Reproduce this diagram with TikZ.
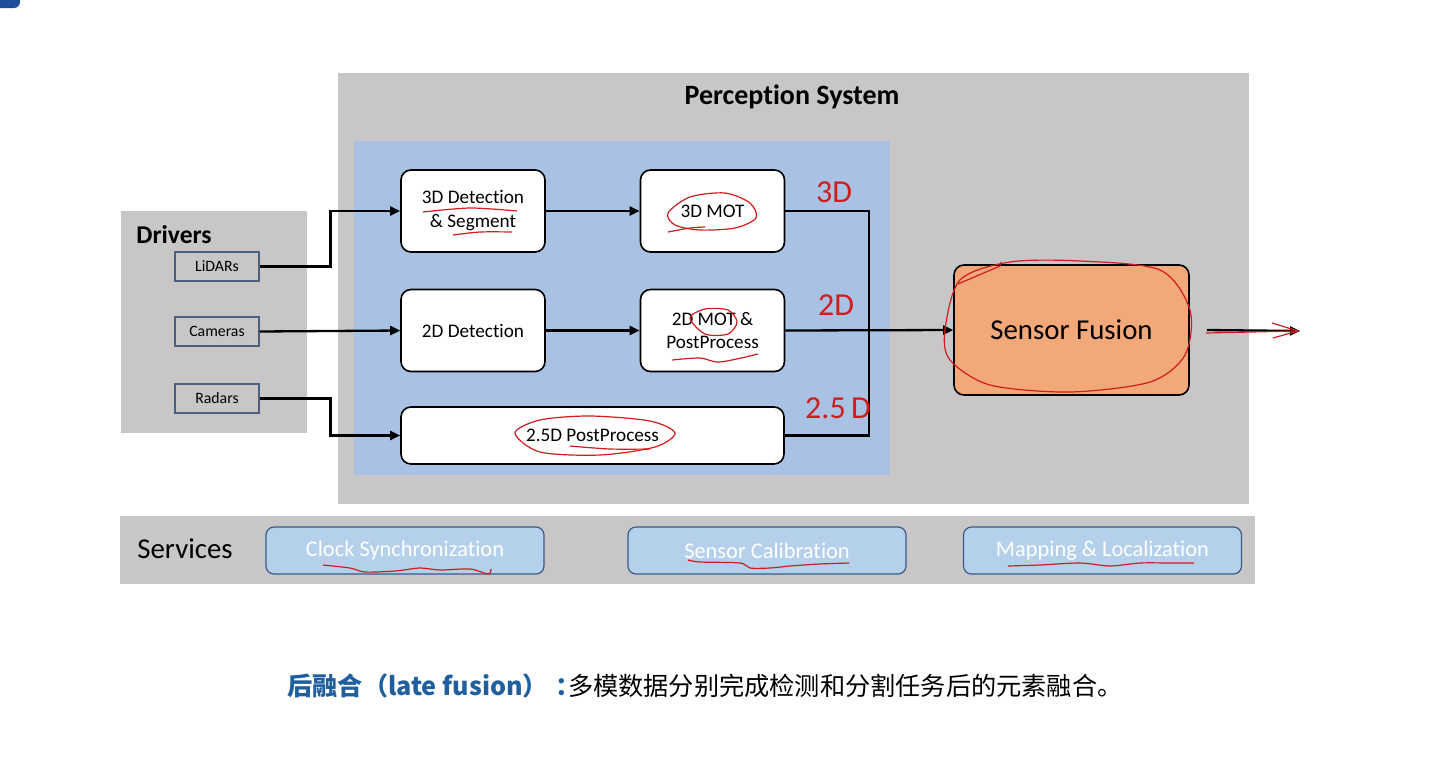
\documentclass[tikz,border=0pt]{standalone}
\usepackage{fontspec}
\setmainfont{Carlito}[Ligatures=NoCommon]
\newfontfamily\cjk{Noto Sans CJK SC}
\usetikzlibrary{arrows.meta, positioning, calc}
\definecolor{panel}{HTML}{C8C6C6}
\definecolor{inner}{HTML}{A9C1E3}
\definecolor{fuse}{HTML}{F2A878}
\definecolor{svc}{HTML}{B4D0EA}
\definecolor{svcedge}{HTML}{3A5A8A}
\definecolor{drv}{HTML}{4A6080}
\definecolor{hand}{HTML}{D01C1C}
\definecolor{ttl}{HTML}{1F5FA0}
\definecolor{corner}{HTML}{1F4E9A}
\tikzset{
  bg/.style={fill=panel, draw=none, inner sep=0pt},
  n/.style={draw=black, line width=0.8pt, rounded corners=5pt, fill=white, align=center, font=\fontsize{9.6}{12}\selectfont, minimum width=72pt, minimum height=41pt, inner sep=2pt},
  nd/.style={draw=drv, line width=0.6pt, fill=panel, font=\fontsize{7.9}{9}\selectfont, minimum width=42pt, minimum height=14.5pt, inner sep=0pt},
  ns/.style={draw=svcedge, line width=0.6pt, rounded corners=4pt, fill=svc, text=white, font=\fontsize{11.2}{13}\selectfont, minimum width=139pt, minimum height=23.5pt},
  a/.style={-{Triangle[length=5pt, width=4.5pt]}, line width=1.15pt},
  l/.style={line width=1.15pt},
  hw/.style={draw=hand, line width=0.6pt},
  hwt/.style={text=hand, font=\fontsize{16}{16}\selectfont},
}
\begin{document}
\begin{tikzpicture}[x=0.5pt, y=-0.5pt]
\useasboundingbox (0,0) rectangle (1440,756);
\fill[corner, rounded corners=3pt] (-10,-10) rectangle (20,8);

% panels
\node[bg, minimum width=455.5pt, minimum height=215.5pt] (perc) at (793.5,288.5) {};
\node[font=\fontsize{14}{16}\selectfont\bfseries] (perctitle) at (792,97) {Perception System};
\node[fill=inner, inner sep=0pt, minimum width=268pt, minimum height=167pt] (core) at (622,308) {};
\node[bg, minimum width=93pt, minimum height=111pt] (drivers) at (214,322) {};
\node[font=\fontsize{12.8}{14}\selectfont\bfseries, anchor=west, inner sep=0pt] (drvtitle) at (136,235) {Drivers};
\node[bg, minimum width=567.5pt, minimum height=34pt] (services) at (687.5,550) {};
\node[font=\fontsize{14.4}{16}\selectfont, anchor=west, inner sep=0pt] (svctitle) at (137,549) {Services};

% sensors
\node[nd] (lidar) at (217,266.5) {LiDARs};
\node[nd] (cam) at (217,331.5) {Cameras};
\node[nd] (radar) at (217,398.5) {Radars};

% perception blocks
\node[n] (det3) at (473,211) {3D Detection\\\& Segment};
\node[n] (mot3) at (712.5,211) {3D MOT};
\node[n] (det2) at (473,330.5) {2D Detection};
\node[n, font=\fontsize{9.6}{11.5}\selectfont] (mot2) at (712.5,330.5) {2D MOT \&\\PostProcess};
\node[n, minimum width=191.5pt, minimum height=28.5pt] (pp25) at (592.5,435.5) {2.5D PostProcess};
\node[n, fill=fuse, minimum width=117.5pt, minimum height=65pt, font=\fontsize{14.4}{16}\selectfont] (fusion) at (1071.5,330) {Sensor Fusion};

% services
\node[ns] (clock) at (405,550.5) {Clock Synchronization};
\node[ns] (calib) at (767,550.5) {Sensor Calibration};
\node[ns] (maploc) at (1102.5,550.5) {Mapping \& Localization};

\coordinate (mg) at (869,330.5);
\coordinate (out) at (1300,331);

\draw[a] (lidar.east) -- ++(71,0) |- (det3.west);
\draw[a] (cam.east) -- (det2.west);
\draw[a] (radar.east) -- ++(71,0) |- (pp25.west);
\draw[a] (det3) -- (mot3);
\draw[a] (det2) -- (mot2);
\draw[l] (mot3.east) -| (mg);
\draw[l] (pp25.east) -| (mg);
\draw[a] (mot2.east) -- (fusion.west);
\draw[a] ([xshift=8.5pt]fusion.east) -- (out);

% handwritten notes
\node[hwt] (n3d) at (834,192) {3D};
\node[hwt] (n2d) at (836,305) {2D};
\node[hwt] (n25d) at (838,408) {2.5\,D};
\draw[hw] plot[smooth] coordinates {(423,212) (470,208) (517,211)};
\draw[hw] plot[smooth] coordinates {(453,235) (480,232) (512,232)};
\draw[hw] plot[smooth cycle] coordinates {(668,213) (690,197) (725,193) (750,203) (756,218) (735,228) (700,230) (675,225)};
\draw[hw] plot[smooth] coordinates {(668,232) (690,228) (705,227)};
\draw[hw] plot[smooth cycle] coordinates {(690,318) (705,309) (728,310) (737,322) (728,334) (705,334)};
\draw[hw] plot[smooth] coordinates {(672,360) (700,358) (720,362) (758,354)};
\draw[hw] plot[smooth cycle] coordinates {(515,433) (540,420) (590,416) (650,421) (675,433) (655,447) (600,455) (540,452)};
\draw[hw] plot[smooth] coordinates {(570,446) (610,449) (650,449)};
\draw[hw] plot[smooth cycle] coordinates {(945,330) (960,280) (1010,262) (1080,261) (1160,270) (1190,310) (1185,355) (1150,382) (1070,392) (990,385) (950,360)};
\draw[hw] (958,284) -- (1000,266) -- (1001,262);
\draw[hw] (1206,333) -- (1296,331);
\draw[hw] (1272,323) -- (1298,331) -- (1273,338);
\draw[hw] plot[smooth] coordinates {(323,565) (350,568) (365,572) (395,571) (420,568) (440,570) (470,569) (488,574) (491,569)};
\draw[hw] plot[smooth] coordinates {(688,560) (700,562) (740,563) (750,568) (770,568) (790,566) (820,564) (849,563)};
\draw[hw] plot[smooth] coordinates {(1008,566) (1040,565) (1080,563) (1110,566) (1140,563) (1170,563) (1194,563)};

% caption
\node[font=\cjk\fontsize{12.6}{14}\selectfont] (caption) at (705,686) {{\color{ttl}\bfseries 后融合（late fusion）\hspace{0.3em}：\hspace{-0.5em}}多模数据分别完成检测和分割任务后的元素融合。};
\end{tikzpicture}
\end{document}
